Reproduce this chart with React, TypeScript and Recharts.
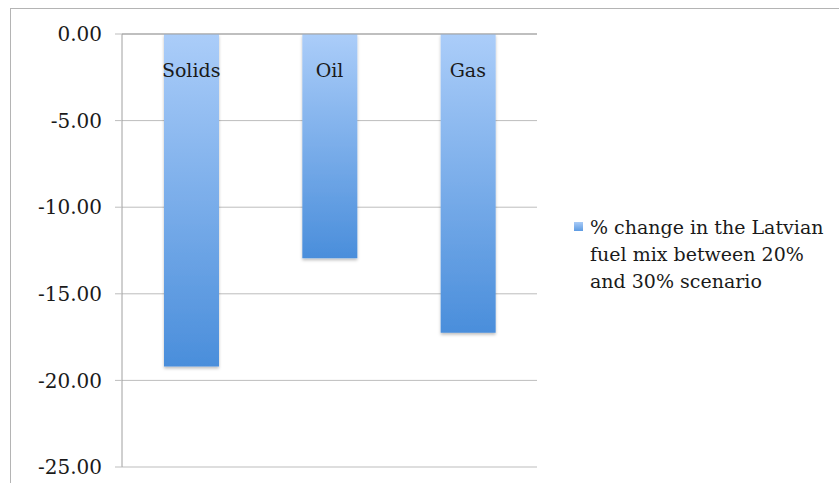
import React from 'react';
import { BarChart, Bar, XAxis, YAxis, CartesianGrid, Legend } from 'recharts';

const categories = ['Solids', 'Oil', 'Gas'];
const changeValues = [-19.2, -12.95, -17.25];
const yTicks = [0, -5, -10, -15, -20, -25];
const seriesName = '% change in the Latvian fuel mix between 20% and 30% scenario';

const data = categories.map((name, i) => ({ name, value: changeValues[i] }));

const FONT = '"DejaVu Serif", serif';
const INK = '#1a1a1a';
const GRID = '#bdbdbd';
const AXIS = '#a0a0a0';

const renderCategoryTick = (props: any) => {
  const { x, y, payload } = props;
  return (
    <text x={x} y={y} dy={43} textAnchor="middle" fontFamily={FONT} fontSize={19} fill={INK}>
      {payload.value}
    </text>
  );
};

const LegendContent = () => (
  <div style={{ display: 'flex', fontFamily: FONT, fontSize: 19, lineHeight: '27px', color: INK }}>
    <div
      style={{
        width: 9,
        height: 9,
        marginTop: 8,
        marginRight: 7,
        flex: 'none',
        background: 'linear-gradient(#a9cbf7, #5d9be2)',
      }}
    />
    <div style={{ width: 245 }}>{seriesName}</div>
  </div>
);

export default function App() {
  return (
    <div
      style={{
        position: 'absolute',
        left: 10,
        top: 8,
        width: 829,
        height: 475,
        boxSizing: 'border-box',
        borderTop: '1px solid #b4b4b4',
        borderLeft: '1px solid #b4b4b4',
        background: '#fff',
      }}
    >
      <BarChart
        width={828}
        height={474}
        data={data}
        margin={{ top: 24, right: 37, bottom: 16, left: 0 }}
        barSize={55}
      >
        <defs>
          <linearGradient id="barFill" x1="0" y1="0" x2="0" y2="1">
            <stop offset="0%" stopColor="#abcdf9" />
            <stop offset="100%" stopColor="#4a8edb" />
          </linearGradient>
          <filter id="barShadow" x="-10%" y="-5%" width="120%" height="115%">
            <feDropShadow dx="0" dy="2" stdDeviation="1.5" floodColor="#000" floodOpacity="0.25" />
          </filter>
        </defs>
        <CartesianGrid vertical={false} stroke={GRID} />
        <YAxis
          domain={[-25, 0]}
          ticks={yTicks}
          width={111}
          tickSize={7}
          tickMargin={13}
          tickLine={{ stroke: GRID }}
          axisLine={{ stroke: AXIS }}
          tickFormatter={(v: number) => v.toFixed(2)}
          tick={{ fontFamily: FONT, fontSize: 20, fill: INK }}
          allowDataOverflow
        />
        <Legend
          layout="vertical"
          align="right"
          verticalAlign="middle"
          content={<LegendContent />}
          wrapperStyle={{ position: 'absolute', left: 563, top: 205, width: 265 }}
        />
        <Bar
          dataKey="value"
          name={seriesName}
          fill="url(#barFill)"
          filter="url(#barShadow)"
          isAnimationActive={false}
        />
        <XAxis
          dataKey="name"
          orientation="top"
          height={1}
          tickSize={0}
          tickMargin={0}
          tickLine={false}
          axisLine={{ stroke: AXIS }}
          tick={renderCategoryTick}
          interval={0}
        />
      </BarChart>
    </div>
  );
}
